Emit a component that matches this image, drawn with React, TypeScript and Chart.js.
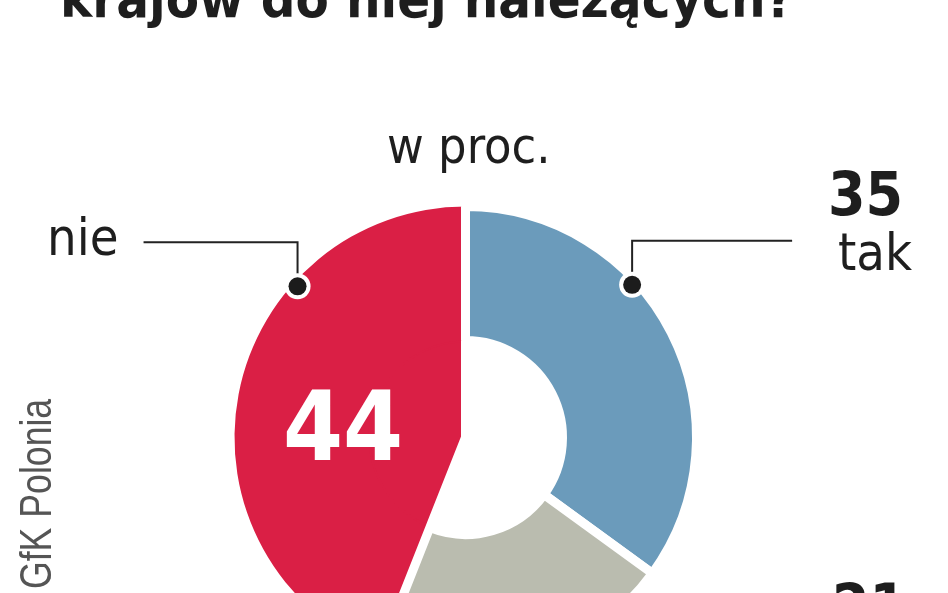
import { useEffect, useRef } from "react";
import { Chart, ArcElement, DoughnutController } from "chart.js";

Chart.register(ArcElement, DoughnutController);

const categories = ["nie", "tak", "nie wiem"];
const values = [44, 35, 21];
const colors = ["#da1f45", "#6b9bbb", "#babcaf"];
// where the callout dot sits on the ring, degrees from 12 o'clock (null = none)
const calloutAngles: (number | null)[] = [-48, 47.5, null];
const calloutLength = [-154, 160, 0];

const condensed = '"DejaVu Sans Condensed", "DejaVu Sans", sans-serif';

const calloutPlugin = {
  id: "callouts",
  afterDatasetsDraw(chart: Chart) {
    const ctx = chart.ctx;
    const meta = chart.getDatasetMeta(0);
    meta.data.forEach((el: any, i: number) => {
      const deg = calloutAngles[i];
      if (deg == null) return;
      const { x, y, outerRadius } = el.getProps(["x", "y", "outerRadius"], true);
      const a = ((deg - 90) * Math.PI) / 180;
      const r = outerRadius - 5;
      const px = x + Math.cos(a) * r;
      const py = y + Math.sin(a) * r;
      const elbowY = py - 44;

      ctx.save();
      ctx.strokeStyle = "#222";
      ctx.lineWidth = 2;
      ctx.beginPath();
      ctx.moveTo(px, py);
      ctx.lineTo(px, elbowY);
      ctx.lineTo(px + calloutLength[i], elbowY);
      ctx.stroke();

      ctx.fillStyle = "#fff";
      ctx.beginPath();
      ctx.arc(px, py, 13, 0, Math.PI * 2);
      ctx.fill();
      ctx.fillStyle = "#1c1c1c";
      ctx.beginPath();
      ctx.arc(px, py, 9, 0, Math.PI * 2);
      ctx.fill();
      ctx.restore();
    });
  },
};

export default function App() {
  const chartRef = useRef<HTMLCanvasElement>(null);
  const chartInstanceRef = useRef<Chart | null>(null);

  useEffect(() => {
    if (!chartRef.current) return;
    if (chartInstanceRef.current) chartInstanceRef.current.destroy();

    const total = values.reduce((s, v) => s + v, 0);
    // "tak" starts at 12 o'clock, "nie" sits just before it
    const rotation = -(values[0] / total) * 360;

    chartInstanceRef.current = new Chart(chartRef.current, {
      type: "doughnut",
      data: {
        labels: categories,
        datasets: [
          {
            data: values,
            backgroundColor: colors,
            borderColor: "#fff",
            borderWidth: [0, 9, 9],
            weight: 134,
          },
          {
            // the hole: white except under "nie", which is drawn as a full wedge
            data: values,
            backgroundColor: [colors[0], "#fff", "#fff"],
            borderColor: [colors[0], "#fff", "#fff"],
            borderWidth: [4, 9, 9],
            weight: 97,
          },
        ],
      },
      options: {
        animation: false,
        responsive: true,
        maintainAspectRatio: false,
        events: [],
        cutout: 0,
        rotation,
        layout: { padding: { left: 230, right: 247, top: 202, bottom: 0 } },
        plugins: {
          legend: { display: false },
          tooltip: { enabled: false },
        },
      },
      plugins: [calloutPlugin],
    });

    return () => {
      if (chartInstanceRef.current) {
        chartInstanceRef.current.destroy();
        chartInstanceRef.current = null;
      }
    };
  }, []);

  const text = (extra: React.CSSProperties): React.CSSProperties => ({
    position: "absolute",
    margin: 0,
    lineHeight: 1,
    whiteSpace: "nowrap",
    color: "#1e1e1e",
    fontFamily: condensed,
    fontStretch: "condensed",
    ...extra,
  });

  return (
    <div style={{ position: "fixed", left: 0, top: 0, width: 948, height: 593, overflow: "hidden", background: "#fff" }}>
      <div style={{ position: "absolute", left: 0, top: 0, width: 948, height: 673 }}>
        <canvas ref={chartRef} />
      </div>
      <div style={text({ left: 60, top: -28, fontSize: 54, fontWeight: 700 })}>krajów do niej należących?</div>
      <div style={text({ left: 387, top: 121, fontSize: 50 })}>w proc.</div>
      <div style={text({ left: 47, top: 211, fontSize: 52 })}>{categories[0]}</div>
      <div style={text({ left: 828, top: 164, fontSize: 60, fontWeight: 700 })}>{values[1]}</div>
      <div style={text({ left: 838, top: 226, fontSize: 52 })}>{categories[1]}</div>
      <div style={text({ left: 832, top: 576, fontSize: 60, fontWeight: 700 })}>{values[2]}</div>
      <div style={text({ left: 283, top: 379, fontSize: 96, fontWeight: 700, color: "#fff" })}>{values[0]}</div>
      <div
        style={text({
          left: 14,
          top: 589,
          fontSize: 44,
          fontFamily: '"Liberation Sans", sans-serif',
          fontStretch: "normal",
          color: "#555",
          transformOrigin: "left top",
          transform: "rotate(-90deg) scaleX(0.81)",
        })}
      >
        GfK Polonia
      </div>
    </div>
  );
}
